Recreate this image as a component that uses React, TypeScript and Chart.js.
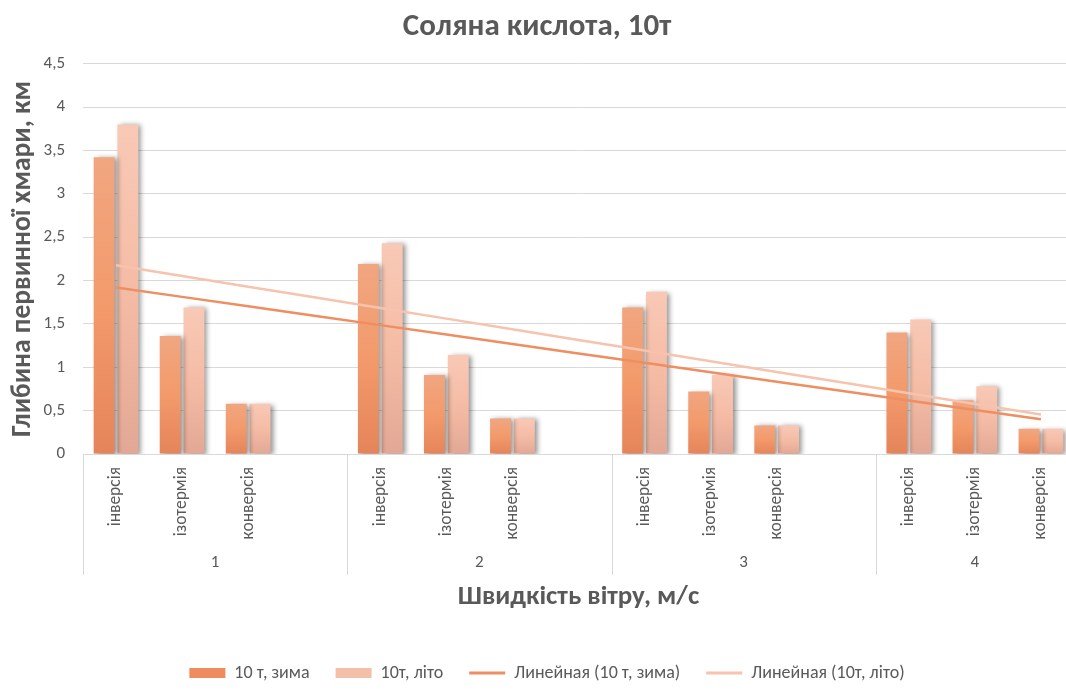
import React, { useEffect, useRef } from 'react';
import { Chart, registerables } from 'chart.js';

Chart.register(...registerables);

const FONT = "Carlito, Calibri, Roboto, 'Liberation Sans', sans-serif";
const TEXT = '#595959';
const GRID = '#D9D9D9';

const chartTitle = 'Соляна кислота, 10т';
const yTitle = 'Глибина первинної хмари, км';
const xTitle = 'Швидкість вітру, м/с';

// wind speed groups (m/s) and atmospheric stability within each group
const windSpeeds = ['1', '2', '3', '4'];
const regimes = ['інверсія', 'ізотермія', 'конверсія'];

// cloud depth, km; null marks the empty slot that separates wind-speed groups
const winter10t = [3.42, 1.36, 0.58, null, 2.19, 0.91, 0.41, null, 1.69, 0.72, 0.33, null, 1.4, 0.62, 0.29];
const summer10t = [3.8, 1.69, 0.58, null, 2.43, 1.14, 0.41, null, 1.87, 0.91, 0.33, null, 1.55, 0.78, 0.29];

const seriesNames = ['10 т, зима', '10т, літо'];
const trendNames = ['Линейная (10 т, зима)', 'Линейная (10т, літо)'];

const yTickValues = [0, 0.5, 1, 1.5, 2, 2.5, 3, 3.5, 4, 4.5];

// each group holds the three regimes, followed by a blank slot except for the last group
const slotLabels: string[] = windSpeeds.flatMap((_, gi) =>
  gi < windSpeeds.length - 1 ? [...regimes, ''] : [...regimes]
);

// least-squares line over slot positions, skipping blank slots
function linearTrend(values: (number | null)[]): number[] {
  const pts = values
    .map((v, i) => (v == null ? null : [i, v]))
    .filter((p): p is number[] => p !== null);
  const n = pts.length;
  const mx = pts.reduce((s, p) => s + p[0], 0) / n;
  const my = pts.reduce((s, p) => s + p[1], 0) / n;
  let sxy = 0;
  let sxx = 0;
  pts.forEach(([x, y]) => {
    sxy += (x - mx) * (y - my);
    sxx += (x - mx) * (x - mx);
  });
  const slope = sxy / sxx;
  const intercept = my - slope * mx;
  return values.map((_, i) => intercept + slope * i);
}

// vertical gradient spanning each individual bar
function barGradient(stops: string[]) {
  return (ctx: any) => {
    const chart = ctx.chart;
    const v = ctx.raw;
    if (!chart.chartArea || ctx.type !== 'data' || v == null || !chart.scales.y) return stops[1];
    const y = chart.scales.y;
    const top = y.getPixelForValue(v);
    const bottom = y.getPixelForValue(0);
    if (!isFinite(top) || !isFinite(bottom) || Math.abs(bottom - top) < 1) return stops[1];
    const g = chart.ctx.createLinearGradient(0, top, 0, bottom);
    g.addColorStop(0, stops[0]);
    g.addColorStop(0.5, stops[1]);
    g.addColorStop(1, stops[2]);
    return g;
  };
}

const winterStops = ['#F1A680', '#F39A6B', '#E5845A'];
const summerStops = ['#F8C9B6', '#F5BCA5', '#E3A895'];
const legendSwatches = ['#EE8C5F', '#F4BFA9', '#EE8E61', '#F6C3AE'];

// soft drop shadow behind the columns
const barShadow = {
  id: 'barShadow',
  beforeDatasetDraw(chart: any, args: any) {
    if (args.meta.type !== 'bar') return;
    const c = chart.ctx;
    c.save();
    c.shadowColor = 'rgba(0,0,0,0.42)';
    c.shadowBlur = 5;
    c.shadowOffsetX = 3;
    c.shadowOffsetY = 1;
  },
  afterDatasetDraw(chart: any, args: any) {
    if (args.meta.type !== 'bar') return;
    chart.ctx.restore();
  },
};

// second level of the category axis: group separators and wind speed labels
const groupAxis = {
  id: 'groupAxis',
  afterDraw(chart: any) {
    const x = chart.scales.x;
    const area = chart.chartArea;
    const ctx = chart.ctx;
    const half = (x.getPixelForValue(1) - x.getPixelForValue(0)) / 2;
    ctx.save();
    ctx.strokeStyle = GRID;
    ctx.lineWidth = 1;
    ctx.fillStyle = TEXT;
    ctx.font = `17px ${FONT}`;
    ctx.textAlign = 'center';
    ctx.textBaseline = 'middle';
    let start = 0;
    windSpeeds.forEach((label, gi) => {
      const count = gi < windSpeeds.length - 1 ? regimes.length + 1 : regimes.length;
      const left = x.getPixelForValue(start) - half;
      const right = x.getPixelForValue(start + count - 1) + half;
      const lx = Math.round(left) + 0.5;
      ctx.beginPath();
      ctx.moveTo(lx, area.bottom);
      ctx.lineTo(lx, area.bottom + 121);
      ctx.stroke();
      ctx.fillText(label, (left + right) / 2, area.bottom + 109);
      start += count;
    });
    ctx.restore();
  },
};

// nudge the legend row slightly right
const legendOffset = {
  id: 'legendOffset',
  afterLayout(chart: any) {
    if (chart.legend) {
      chart.legend.left += 10;
      chart.legend.right += 10;
    }
  },
};

export default function App() {
  const canvasRef = useRef<HTMLCanvasElement | null>(null);

  useEffect(() => {
    const canvas = canvasRef.current;
    if (!canvas) return;
    const chart = new Chart(canvas, {
      type: 'bar',
      data: {
        labels: slotLabels,
        datasets: [
          {
            type: 'bar',
            label: seriesNames[0],
            data: winter10t,
            backgroundColor: barGradient(winterStops),
            borderWidth: 0,
            order: 1,
          },
          {
            type: 'bar',
            label: seriesNames[1],
            data: summer10t,
            backgroundColor: barGradient(summerStops),
            borderWidth: 0,
            order: 1,
          },
          {
            type: 'line',
            label: trendNames[0],
            data: linearTrend(winter10t),
            borderColor: '#EE8E61',
            borderWidth: 2.5,
            pointRadius: 0,
            fill: false,
            order: 0,
          },
          {
            type: 'line',
            label: trendNames[1],
            data: linearTrend(summer10t),
            borderColor: '#F6C3AE',
            borderWidth: 2.5,
            pointRadius: 0,
            fill: false,
            order: 0,
          },
        ] as any,
      },
      options: {
        responsive: false,
        animation: false,
        layout: { padding: { left: 0, right: 2, top: 0, bottom: 6 } },
        datasets: {
          bar: { categoryPercentage: 0.72, barPercentage: 0.88 },
        },
        plugins: {
          tooltip: { enabled: false },
          title: {
            display: true,
            text: chartTitle,
            color: TEXT,
            font: { family: FONT, size: 31, weight: 'bold' },
            padding: { top: 9, bottom: 17.5 },
          },
          legend: {
            position: 'bottom',
            align: 'center',
            labels: {
              usePointStyle: true,
              pointStyleWidth: 36,
              boxHeight: 10,
              padding: 26,
              color: TEXT,
              font: { family: FONT, size: 18 },
              sort: (a: any, b: any) => a.datasetIndex - b.datasetIndex,
              generateLabels: (ch: any) =>
                ch.data.datasets.map((ds: any, i: number) => ({
                  text: ds.label,
                  datasetIndex: i,
                  fillStyle: legendSwatches[i],
                  strokeStyle: legendSwatches[i],
                  lineWidth: i < 2 ? 0 : 3,
                  pointStyle: i < 2 ? 'rect' : 'line',
                  hidden: false,
                  fontColor: TEXT,
                })),
            },
          },
        },
        scales: {
          x: {
            grid: { display: false },
            border: { display: true, color: GRID },
            ticks: {
              autoSkip: false,
              maxRotation: 90,
              minRotation: 90,
              padding: 5,
              color: TEXT,
              font: { family: FONT, size: 17.5 },
            },
            title: {
              display: true,
              text: xTitle,
              color: TEXT,
              font: { family: FONT, size: 27, weight: 'bold' },
              padding: { top: 0, bottom: 25 },
            },
            afterFit(scale: any) {
              scale.height = 184;
            },
          },
          y: {
            min: 0,
            max: 4.5,
            afterBuildTicks(scale: any) {
              scale.ticks = yTickValues.map((v) => ({ value: v }));
            },
            grid: { color: GRID, drawTicks: false },
            border: { display: false },
            ticks: {
              padding: 18,
              color: TEXT,
              font: { family: FONT, size: 17 },
              callback: (v: any) => String(v).replace('.', ','),
            },
            title: {
              display: true,
              text: yTitle,
              color: TEXT,
              font: { family: FONT, size: 27.5, weight: 'bold' },
              padding: { top: 7, bottom: 0 },
            },
            afterFit(scale: any) {
              scale.width = 83;
            },
          },
        },
      },
      plugins: [barShadow, groupAxis, legendOffset],
    } as any);
    return () => chart.destroy();
  }, []);

  return (
    <div style={{ position: 'fixed', left: 0, top: 0, width: 1076, height: 698, background: '#fff' }}>
      <canvas ref={canvasRef} width={1076} height={698} style={{ display: 'block' }} />
    </div>
  );
}
